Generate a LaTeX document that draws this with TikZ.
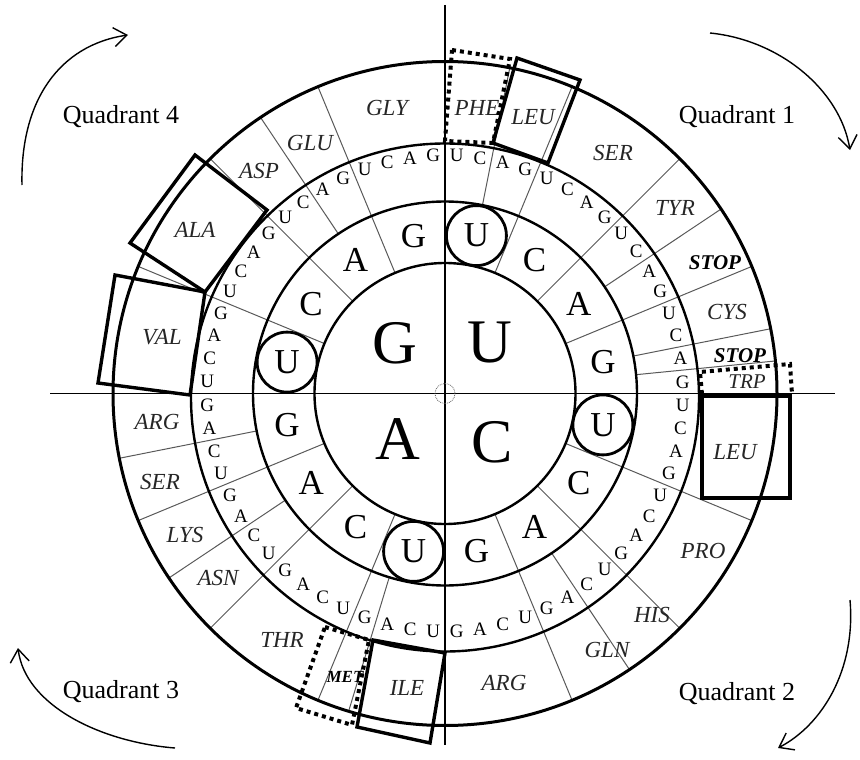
\documentclass[tikz,border=0pt]{standalone}
\usepackage{fontspec}
\setmainfont{Liberation Serif}
\usetikzlibrary{arrows.meta}
\begin{document}
\begin{tikzpicture}[x=1pt,y=-1pt,
  ring/.style={line width=2.4pt},
  spoke/.style={line width=1pt, draw=black!65},
  axis/.style={line width=1.8pt},
  aa/.style={font=\fontsize{23}{23}\selectfont\itshape, inner sep=0pt, text=black!85},
  stopaa/.style={font=\fontsize{21}{21}\selectfont\itshape\bfseries, inner sep=0pt},
  third/.style={font=\fontsize{19}{19}\selectfont, inner sep=0pt},
  second/.style={font=\fontsize{35}{35}\selectfont, inner sep=0pt},
  first/.style={font=\fontsize{62}{62}\selectfont, inner sep=0pt},
  ucirc/.style={line width=2.8pt, fill=white},
  hlbox/.style={line width=3.4pt, line join=miter},
  dotbox/.style={line width=4pt, dash pattern=on 4pt off 4pt},
  quad/.style={font=\fontsize{26}{26}\selectfont, inner sep=0pt},
  turn/.style={line width=1.4pt, -{Straight Barb[length=13pt,width=19pt,line width=1.4pt]}}
]
\useasboundingbox (0,0) rectangle (860,760);

\begin{scope}[shift={(445,393.5)}]
  % spokes through rings 2, 3 and amino ring
  \foreach \a in {22.5,45,67.5,112.5,135,157.5,202.5,225,247.5,292.5,315,337.5} {
    \pgfmathsetmacro\t{\a-90}
    \draw[spoke] (\t:130.5) -- (\t:332);
  }
  % spokes through ring 3 and amino ring only
  \foreach \a in {11.25,56.25,78.75,84.375,146.25,196.875,236.25,258.75,326.25} {
    \pgfmathsetmacro\t{\a-90}
    \draw[spoke] (\t:192) -- (\t:332);
  }
  % circles
  \draw[ring] (0,0) circle (130.5);
  \draw[ring] (0,0) circle (192);
  \draw[ring] (0,4) circle (254);
  \draw[line width=3pt] (0,0) circle (332);
\end{scope}

% axes
\draw[axis] (445,5) -- (445,745);
\draw[axis] (50,393.5) -- (835,393.5);
\draw[black!60, densely dotted, line width=0.8pt] (445,393.5) circle (10);

\begin{scope}[shift={(445,393.5)}]
  % third letters
  \foreach \q in {0,...,15} {
    \foreach[count=\i from 0] \l in {U,C,A,G} {
      \pgfmathsetmacro\t{(\q*4+\i+0.5)*5.625-90}
      \node[third] (t\q\l) at (\t:238) {\l};
    }
  }
  % second letters
  \foreach \q in {0,...,3} {
    \foreach[count=\i from 0] \l in {U,C,A,G} {
      \pgfmathsetmacro\t{(\q*4+\i+0.5)*22.5-90}
      \ifnum\i=0
        \draw[ucirc] (\t:161) circle (30);
      \fi
      \node[second] (s\q\l) at (\t:161) {\l};
    }
  }
\end{scope}

% first letters
\node[first] (fG) at (395,343) {G};
\node[first] (fU) at (490,343) {U};
\node[first] (fA) at (398,439) {A};
\node[first] (fC) at (492,442) {C};

% amino acids
\node[aa] (phe) at (477,108) {PHE};
\node[aa] (leu1) at (533,117) {LEU};
\node[aa] (ser1) at (613,153) {SER};
\node[aa] (tyr) at (675,208) {TYR};
\node[stopaa] (stop1) at (715,263) {STOP};
\node[aa] (cys) at (727,312) {CYS};
\node[stopaa] (stop2) at (740,356) {STOP};
\node[aa, font=\fontsize{21}{21}\selectfont\itshape] (trp) at (747,382) {TRP};
\node[aa] (leu2) at (735,452) {LEU};
\node[aa] (pro) at (703,551) {PRO};
\node[aa] (his) at (652,615) {HIS};
\node[aa] (gln) at (607,650) {GLN};
\node[aa] (arg1) at (504,683) {ARG};
\node[aa] (ile) at (407,688) {ILE};
\node[stopaa, font=\fontsize{17}{17}\selectfont\itshape\bfseries] (met) at (345,677) {MET};
\node[aa] (thr) at (282,640) {THR};
\node[aa] (asn) at (218,578) {ASN};
\node[aa] (lys) at (185,535) {LYS};
\node[aa] (ser2) at (160,482) {SER};
\node[aa] (arg2) at (157,422) {ARG};
\node[aa] (val) at (162,337) {VAL};
\node[aa] (ala) at (195,230) {ALA};
\node[aa] (asp) at (259,171) {ASP};
\node[aa] (glu) at (310,143) {GLU};
\node[aa] (gly) at (387,108) {GLY};

% highlight boxes
\draw[dotbox] (452,50) -- (510,59) -- (493,143) -- (445,141) -- cycle;
\draw[hlbox] (493,143) -- (517,58) -- (580,80) -- (548,163) -- cycle;
\draw[hlbox] (195,155) -- (267,210) -- (205,292) -- (130,243) -- cycle;
\draw[hlbox] (115,275) -- (205,292) -- (190,395) -- (98,383) -- cycle;
\draw[hlbox] (702,396) rectangle (790,498);
\draw[dotbox] (702,394) -- (700,372) -- (790,364) -- (792,394);
\draw[dotbox] (325,627) -- (369,640) -- (352,725) -- (296,708) -- cycle;
\draw[hlbox] (373,640) -- (445,653) -- (430,743) -- (357,727) -- cycle;

% quadrant labels
\node[quad, anchor=base] (q1) at (737,123) {Quadrant 1};
\node[quad, anchor=base] (q4) at (121,123) {Quadrant 4};
\node[quad, anchor=base] (q2) at (737,700) {Quadrant 2};
\node[quad, anchor=base] (q3) at (121,698) {Quadrant 3};

% turning arrows
\coordinate (a4s) at (22,185);  \coordinate (a4e) at (128,35);
\coordinate (a1s) at (710,33);  \coordinate (a1e) at (850,150);
\coordinate (a2s) at (850,600); \coordinate (a2e) at (778,748);
\coordinate (a3s) at (175,748); \coordinate (a3e) at (18,648);
\draw[turn] (a4s) .. controls (20,100) and (60,45) .. (a4e);
\draw[turn] (a1s) .. controls (780,40) and (840,90) .. (a1e);
\draw[turn] (a2s) .. controls (856,670) and (822,725) .. (a2e);
\draw[turn] (a3s) .. controls (100,742) and (25,705) .. (a3e);
\end{tikzpicture}
\end{document}
